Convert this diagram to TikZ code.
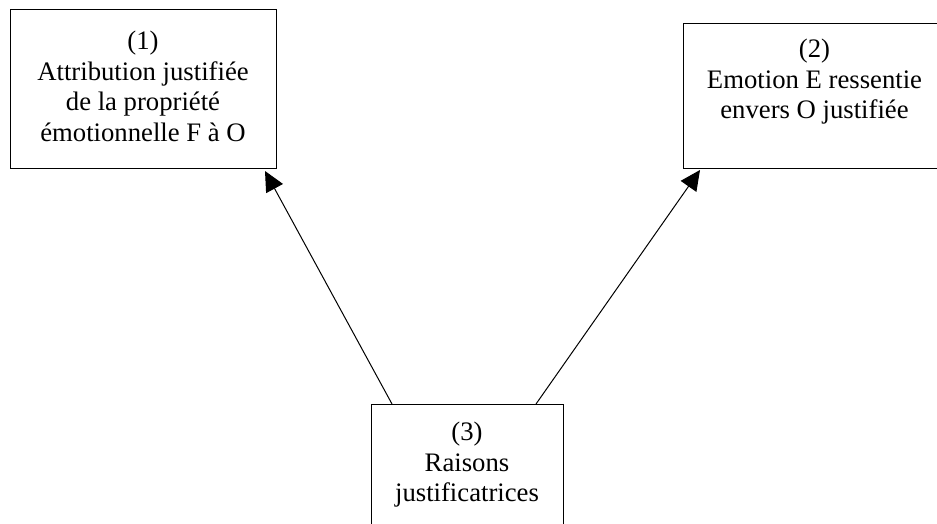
\documentclass[tikz,border=0pt]{standalone}
\usepackage{fontspec}
\setmainfont{Liberation Serif}
\usetikzlibrary{positioning,arrows.meta}

\begin{document}
\begin{tikzpicture}[x=1pt,y=-1pt,box/.style={draw, line width=1pt, anchor=north west, inner sep=0pt, outer sep=0pt},txt/.style={align=center, anchor=north, inner sep=0pt, font=\fontsize{26.7}{30.5}\selectfont},arr/.style={line width=1pt, -{Triangle[length=20pt,width=19pt]}}]
\useasboundingbox (0,0) rectangle (937,523);
\node[box, minimum width=266pt, minimum height=159pt] (attr) at (10,9) {};
\node[box, minimum width=263pt, minimum height=145pt] (emo) at (683,23) {};
\node[box, minimum width=192pt, minimum height=140pt] (res) at (371,404) {};
\node[txt, below=22pt of attr.north] (attrtxt) {(1)\\Attribution justifiée\\de la propriété\\émotionnelle F à O};
\node[txt, below=16pt of emo.north] (emotxt) {(2)\\Emotion E ressentie\\envers O justifiée};
\node[txt, below=18pt of res.north] (restxt) {(3)\\Raisons\\justificatrices};
\coordinate (from1) at ([xshift=21pt]res.north west);
\coordinate (to1) at ([xshift=-11pt,yshift=-3pt]attr.south east);
\coordinate (from2) at ([xshift=-27pt]res.north east);
\coordinate (to2) at ([xshift=17pt,yshift=-2pt]emo.south west);
\draw[arr] (from1) -- (to1);
\draw[arr] (from2) -- (to2);
\end{tikzpicture}
\end{document}
